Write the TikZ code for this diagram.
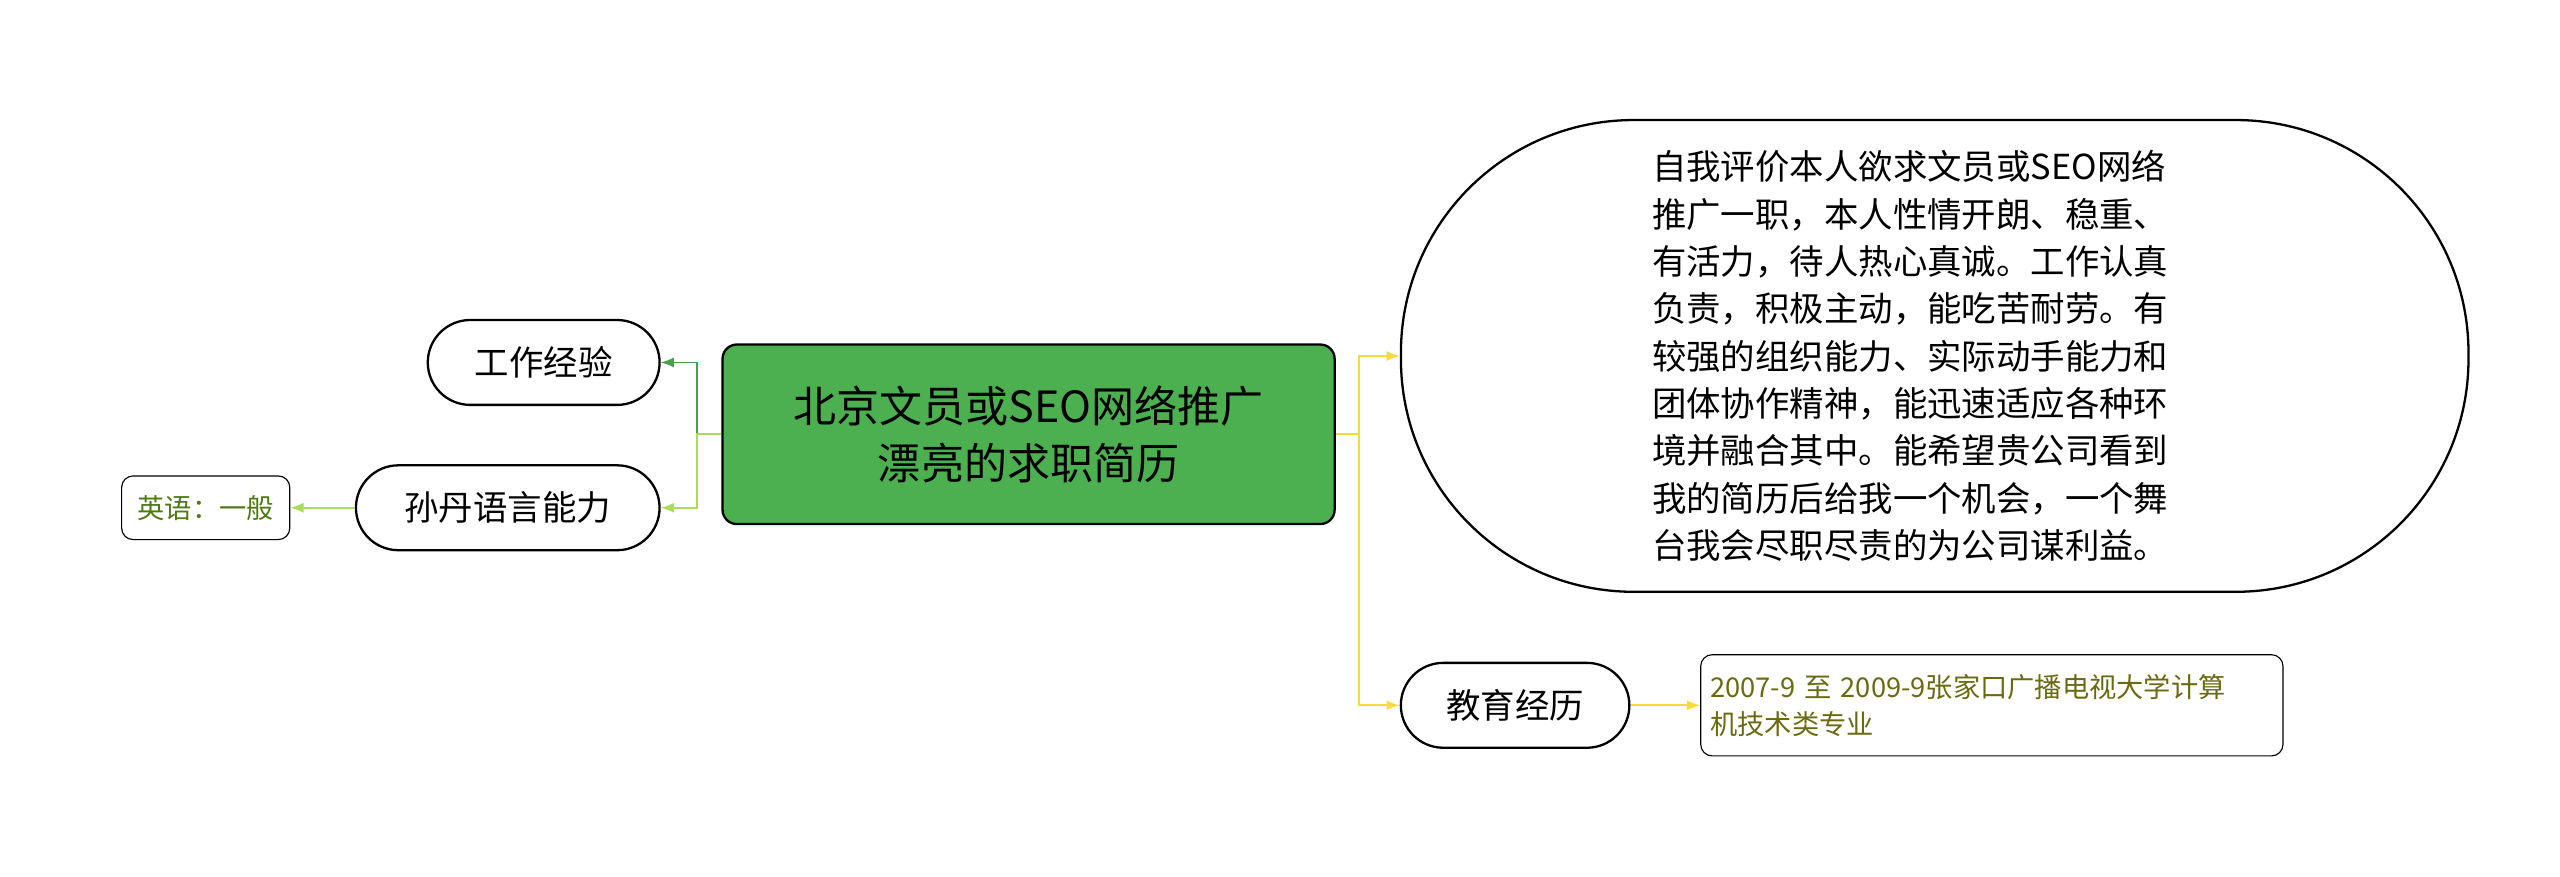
\documentclass[tikz,border=0pt]{standalone}
\usepackage{fontspec}
\setmainfont{Noto Sans CJK SC}
\usetikzlibrary{positioning}
\definecolor{rootgreen}{HTML}{4CAF50}
\definecolor{darkgreen}{HTML}{4A9E4E}
\definecolor{lightgreen}{HTML}{A8DC5A}
\definecolor{lineyellow}{HTML}{F5DC3C}
\definecolor{olive}{HTML}{6B6A10}
\definecolor{leafgreen}{HTML}{4E7A12}
\tikzset{
  pill/.style={draw,thick,rounded corners=0.52cm,minimum height=1.04cm,font=\fontsize{12}{15}\selectfont,inner xsep=10pt},
  leafbox/.style={draw,rounded corners=4pt,font=\fontsize{9.5}{13}\selectfont,align=left},
  link/.style={-latex,semithick}
}
\begin{document}
\begin{tikzpicture}[x=0.02cm,y=-0.02cm]
	\useasboundingbox (0,0) rectangle (1568,537);
	% root
	\node[draw,thick,fill=rootgreen,rounded corners=5pt,minimum width=7.5cm,minimum height=2.2cm,align=center,font=\fontsize{15}{20}\selectfont] (root) at (630,266) {北京文员或SEO网络推广\\漂亮的求职简历};
	% left
	\node[pill,minimum width=2.84cm] (work) at (333,222) {工作经验};
	\node[pill,minimum width=3.72cm] (lang) at (311,311) {孙丹语言能力};
	\node[leafbox,text=leafgreen,minimum width=2.06cm,minimum height=0.78cm,align=center] (eng) at (126,311) {英语：一般};
	% right
	\node[draw,thick,rounded corners=2.85cm,minimum width=13.08cm,minimum height=5.78cm] (evalbox) at (1185,218) {};
	\node[align=left,font=\fontsize{12}{16.5}\selectfont] (evaltext) at (1170,218) {自我评价本人欲求文员或SEO网络\\推广一职，本人性情开朗、稳重、\\有活力，待人热心真诚。工作认真\\负责，积极主动，能吃苦耐劳。有\\较强的组织能力、实际动手能力和\\团体协作精神，能迅速适应各种环\\境并融合其中。能希望贵公司看到\\我的简历后给我一个机会，一个舞\\台我会尽职尽责的为公司谋利益。};
	\node[pill,minimum width=2.8cm] (edu) at (928,432) {教育经历};
	\node[leafbox,text=olive,text width=6.9cm,minimum height=1.24cm] (school) at (1220,432) {2007-9 至 2009-9张家口广播电视大学计算\\机技术类专业};
	% connectors
	\draw[link,darkgreen] (root.west) -- ++(-15,0) |- (work.east);
	\draw[link,lightgreen] (root.west) -- ++(-15,0) |- (lang.east);
	\draw[link,lightgreen] (lang.west) -- (eng.east);
	\draw[link,lineyellow] (root.east) -- ++(14,0) |- (evalbox.west);
	\draw[link,lineyellow] (root.east) -- ++(14,0) |- (edu.west);
	\draw[link,lineyellow] (edu.east) -- (school.west);
\end{tikzpicture}
\end{document}
